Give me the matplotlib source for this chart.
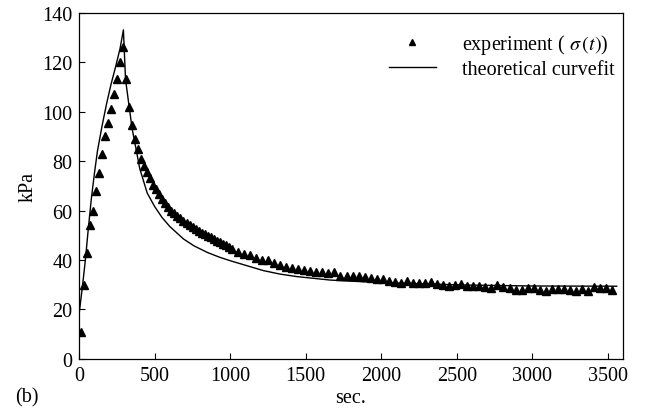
import numpy as np
import matplotlib
matplotlib.use('Agg')
import matplotlib.pyplot as plt

# experiment, sigma(t) in kPa
t_exp = [10, 30, 50, 70, 90, 110, 130, 150, 170, 190, 210, 230, 250, 270, 290,
         310, 330, 350, 370, 390, 410, 430, 450, 470, 490, 510, 530, 550, 570, 590,
         610, 630, 650, 670, 690, 710, 730, 750, 770, 790, 810, 830, 850, 870, 890,
         910, 930, 950, 970, 990, 1010,
         1050, 1090, 1130, 1170, 1210, 1250, 1290, 1330, 1370, 1410, 1450, 1490,
         1530, 1570, 1610, 1650, 1690, 1730, 1770, 1810, 1850, 1890, 1930, 1970,
         2010, 2050, 2090, 2130, 2170, 2210, 2250, 2290, 2330, 2370, 2410, 2450,
         2490, 2530, 2570, 2610, 2650, 2690, 2730, 2770, 2810, 2850, 2890, 2930,
         2970, 3010, 3050, 3090, 3130, 3170, 3210, 3250, 3290, 3330, 3370, 3410,
         3450, 3490, 3530]
sig_exp = [11, 30, 43, 54, 60, 68, 75, 83, 90, 95.5, 101, 107, 113, 120, 126,
           113, 102, 94.5, 89, 85, 81, 78, 75.5, 73, 70.5, 68.5, 66.5, 64.5, 63, 61.5,
           60, 59, 57.8, 56.8, 55.8, 54.8, 54, 53.2, 52.4, 51.7, 51, 50.4, 49.8, 49.1, 48.5,
           47.8, 47.2, 46.6, 46, 45.4, 44.6,
           43.3, 42.6, 42.0, 40.8, 40.1, 39.9, 38.9, 37.9, 37.3, 36.9, 36.5, 36.1,
           35.7, 35.3, 35.0, 34.6, 35.0, 33.5, 33.4, 33.4, 33.4, 33.0, 32.6, 32.3,
           32.3, 31.7, 31.2, 30.7, 31.6, 30.7, 30.6, 30.8, 31.3, 30.3, 30.0, 29.4,
           29.7, 30.1, 29.4, 29.4, 29.4, 29.0, 28.7, 29.7, 29.0, 28.7, 28.0, 28.0,
           28.5, 28.7, 28.0, 27.6, 28.3, 28.3, 28.3, 28.0, 27.6, 28.3, 27.6, 28.9,
           28.6, 28.6, 27.9]

# theoretical curvefit
t_fit = [0, 20, 40, 60, 80, 100, 120, 150, 180, 210, 240, 270, 292,
         306, 330, 350, 380, 400, 450, 500, 550, 600, 690, 760, 850, 930,
         1000, 1110, 1220, 1330, 1440, 1660, 1880, 2100, 2540, 3000, 3560]
sig_fit = [19, 29, 40, 53, 65, 75, 84, 94, 103, 111, 118, 125.5, 133,
           113, 102, 93, 83.5, 77, 67, 61.5, 57, 53.5, 48.5, 45.7, 43, 41.1,
           39.7, 37.7, 35.7, 34.3, 33.3, 31.9, 31.2, 30.7, 29.9, 29.5, 29.4]

plt.rcParams['font.family'] = 'Liberation Serif'
plt.rcParams['mathtext.fontset'] = 'stix'
fs = 14.5

fig = plt.figure(figsize=(6.46, 4.10), dpi=100, facecolor='white')
ax = fig.add_axes([0.1228, 0.122, 0.8412, 0.845])

ax.plot(t_fit, sig_fit, color='black', linewidth=1.0, label='theoretical curvefit')
ax.plot(t_exp, sig_exp, linestyle='none', marker='^', markersize=5.5,
        color='black', label=r'experiment ( $\sigma\,(t)$)')

ax.set_xlim(0, 3600)
ax.set_ylim(0, 140)
ax.set_xticks(np.arange(0, 3501, 500))
ax.set_yticks(np.arange(0, 141, 20))
ax.tick_params(direction='in', length=4, width=0.8, pad=5, labelsize=fs)
for s in ax.spines.values():
    s.set_linewidth(0.9)

ax.set_xlabel('sec.', labelpad=2.5, fontsize=fs)
ax.set_ylabel('kPa', labelpad=3, fontsize=fs)

h, l = ax.get_legend_handles_labels()
ax.legend([h[1], h[0]], [l[1], l[0]], loc='upper right', frameon=False,
          bbox_to_anchor=(1.018, 0.997), handlelength=2.3, handletextpad=1.3,
          markerscale=0.7, labelspacing=0.22, fontsize=fs)

fig.text(0.023, 0.018, '(b)', fontsize=fs)

fig.savefig('out.png', dpi=100)
